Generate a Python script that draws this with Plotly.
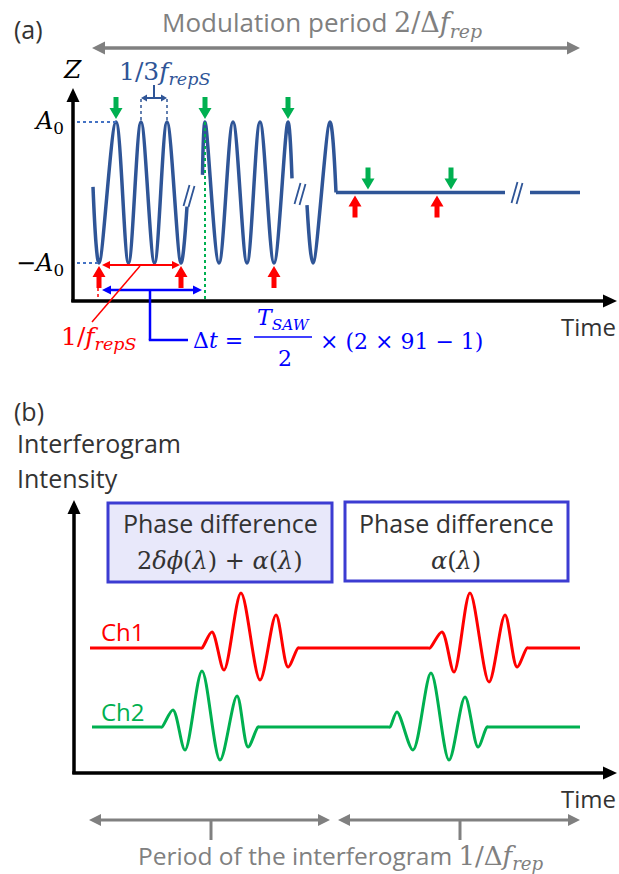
import plotly.graph_objects as go

W, H = 619, 874

# ---------------- data ----------------
# Panel (a): surface displacement Z (in units of A0) against time (time axis in px-like units)
burst1_t = [93, 99, 116, 128.5, 141, 154.5, 167, 181, 187]
burst1_z = [0.08, -1, 1, -1, 1, -1, 1, -1, -0.2]
burst2_t = [202.5, 205, 219, 233, 247, 260, 274, 288, 292]
burst2_z = [0.25, 1, -1, 1, -1, 1, -1, 1, 0.2]
burst3_t = [307, 313, 330, 336]
burst3_z = [-0.18, -1, 1, 0.0]
rest1_t = [336, 505]
rest1_z = [0, 0]
rest2_t = [530, 580]
rest2_z = [0, 0]
green_t = [116, 205, 288, 368, 451]
green_z = [1, 1, 1, 0, 0]
red_t = [99, 181, 274, 355, 437]
red_z = [-1, -1, -1, 0, 0]

# Panel (b): interferogram intensity (arb. units)
ch1_t = [90, 200, 202, 212, 224, 241, 260, 276, 288, 298, 300, 428, 430, 442, 454, 470, 489, 505, 517, 527, 529, 580]
ch1_i = [12.5, 12.5, 12.5, 14.1, 10.3, 18.0, 9.3, 15.8, 10.6, 12.5, 12.5, 12.5, 12.5, 14.1, 10.1, 18.0, 9.1, 15.8, 10.6, 12.5, 12.5, 12.5]
ch2_t = [92, 160, 162, 173, 185, 202, 220, 237, 248, 258, 260, 388, 390, 397, 413, 431, 449, 465, 478, 487, 489, 580]
ch2_i = [4.6, 4.6, 4.6, 6.3, 2.3, 10.2, 1.3, 7.7, 2.6, 4.6, 4.6, 4.6, 4.6, 6.1, 2.3, 10.0, 1.3, 7.6, 2.6, 4.6, 4.6, 4.6]

# ---------------- style ----------------
SANS = "Open Sans"
SERIF = "DejaVu Serif"
WAVE = "#2f5597"
GREEN = "#00b050"
RED = "#ff0000"
BLUE = "#0000ff"
GRAY = "#808080"
DARK = "#333333"
BOXC = "#3c3cd2"

shapes = []
annotations = []


def px(x):
    return x / W


def py(y):
    return 1 - y / H


def seg(x0, y0, x1, y1, color, width, dash="solid"):
    shapes.append(dict(type="line", xref="paper", yref="paper",
                       x0=px(x0), y0=py(y0), x1=px(x1), y1=py(y1),
                       line=dict(color=color, width=width, dash=dash)))


def poly(pts, color):
    d = "M " + " L ".join(f"{px(a):.5f},{py(b):.5f}" for a, b in pts) + " Z"
    shapes.append(dict(type="path", xref="paper", yref="paper", path=d,
                       fillcolor=color, line=dict(width=0)))


def head(tx, ty, dx, dy, L, Wd, color):
    bx, by = tx - dx * L, ty - dy * L
    nx, ny = -dy, dx
    poly([(tx, ty), (bx + nx * Wd / 2, by + ny * Wd / 2), (bx - nx * Wd / 2, by - ny * Wd / 2)], color)


def harrow(x0, x1, y, color, width, L, Wd, both=True):
    seg(x0 + (L - 1 if both else 0), y, x1 - L + 1, y, color, width)
    head(x1, y, 1, 0, L, Wd, color)
    if both:
        head(x0, y, -1, 0, L, Wd, color)


def text(x, y, s, size, color, xa="center", family=SANS):
    annotations.append(dict(x=px(x), y=py(y), xref="paper", yref="paper", text=s,
                            showarrow=False, xanchor=xa, yanchor="middle",
                            font=dict(size=size, color=color, family=family)))


def math(s, size):
    return f"<span style='font-family:{SERIF};font-size:{size}px'>{s}</span>"


fig = go.Figure()

# ---------------- panel (a) waveform ----------------
for t, z in [(burst1_t, burst1_z), (burst2_t, burst2_z), (burst3_t, burst3_z)]:
    fig.add_trace(go.Scatter(x=t, y=z, mode="lines", xaxis="x", yaxis="y",
                             line=dict(color=WAVE, width=3.5, shape="spline", smoothing=1.0),
                             hoverinfo="skip", showlegend=False))
for t, z in [(rest1_t, rest1_z), (rest2_t, rest2_z)]:
    fig.add_trace(go.Scatter(x=t, y=z, mode="lines", xaxis="x", yaxis="y",
                             line=dict(color=WAVE, width=3.5), hoverinfo="skip", showlegend=False))

# block arrows marking sampling instants (sized in pixels, anchored on data)
green_path = "M 0,3 L -6.5,14 L -2.5,14 L -2.5,25 L 2.5,25 L 2.5,14 L 6.5,14 Z"
red_path = "M 0,-3 L -6.5,-14 L -2.5,-14 L -2.5,-25 L 2.5,-25 L 2.5,-14 L 6.5,-14 Z"
for t, z in zip(green_t, green_z):
    shapes.append(dict(type="path", xref="x", yref="y", xsizemode="pixel", ysizemode="pixel",
                       xanchor=t, yanchor=z, path=green_path, fillcolor=GREEN, line=dict(width=0)))
for t, z in zip(red_t, red_z):
    shapes.append(dict(type="path", xref="x", yref="y", xsizemode="pixel", ysizemode="pixel",
                       xanchor=t, yanchor=z, path=red_path, fillcolor=RED, line=dict(width=0)))

# A0 guide lines
shapes.append(dict(type="line", xref="x", yref="y", x0=77, x1=burst1_t[2], y0=1, y1=1,
                   line=dict(color="#4472c4", width=2, dash="dot")))
shapes.append(dict(type="line", xref="x", yref="y", x0=77, x1=burst1_t[1], y0=-1, y1=-1,
                   line=dict(color="#4472c4", width=2, dash="dot")))

# break marks //
for bx, by in [(189, 195), (300, 193), (517, 192)]:
    seg(bx - 5.5, by + 11, bx + 0.5, by - 10, WAVE, 1.8)
    seg(bx - 0.5, by + 12, bx + 5.5, by - 9, WAVE, 1.8)

# axes (a)
seg(73, 302, 73, 100, "black", 3.5)
head(73, 88, 0, -1, 14, 13, "black")
seg(71.3, 301, 605, 301, "black", 3.5)
head(617, 301, 1, 0, 14, 13, "black")

text(12, 29, "(a)", 25, DARK, xa="left")
text(322, 23, "Modulation period " + math("2/Δ<i>f</i><sub><i>rep</i></sub>", 27), 26, GRAY)
harrow(92, 580, 48, GRAY, 3.5, 13, 13)

text(72, 70, "<i>Z</i>", 25, "black", family=SERIF)
text(66, 122, "<i>A</i><sub>0</sub>", 24, "black", xa="right", family=SERIF)
text(66, 264, "−<i>A</i><sub>0</sub>", 24, "black", xa="right", family=SERIF)

# 1/3 f_repS bracket
seg(141, 99, 141, 120, WAVE, 1.5, "dot")
seg(167, 99, 167, 120, WAVE, 1.5, "dot")
harrow(141, 167, 98, WAVE, 2, 6, 7)
seg(154, 98, 154, 85, WAVE, 2)
text(117, 73, "1/3<i>f</i><sub><i>repS</i></sub>", 25, WAVE, xa="left", family=SERIF)

# delay markers
seg(205, 122, 205, 300, GREEN, 2, "dot")
harrow(102, 180, 265, RED, 2, 8, 8)
seg(98, 288, 98, 300, RED, 1.5, "dot")
harrow(102, 202, 290, BLUE, 2.5, 9, 9)
seg(150, 290, 150, 340, BLUE, 2.5)
seg(148.8, 340, 188, 340, BLUE, 2.5)
seg(140, 266, 92, 322, RED, 1.5)
text(99, 338, "1/<i>f</i><sub><i>repS</i></sub>", 25, RED, family=SERIF)
text(191, 340, "Δ<i>t</i> =", 22, BLUE, xa="left", family=SERIF)
text(283, 320, "<i>T</i><sub><i>SAW</i></sub>", 22, BLUE, family=SERIF)
seg(254, 337, 312, 337, BLUE, 1.5)
text(285, 359, "2", 22, BLUE, family=SERIF)
text(318, 341, "× (2 × 91 − 1)", 22, BLUE, xa="left", family=SERIF)
text(588, 326, "Time", 24, DARK)

# ---------------- panel (b) ----------------
fig.add_trace(go.Scatter(x=ch1_t, y=ch1_i, mode="lines", xaxis="x2", yaxis="y2",
                         line=dict(color=RED, width=3, shape="spline", smoothing=0.9),
                         hoverinfo="skip", showlegend=False))
fig.add_trace(go.Scatter(x=ch2_t, y=ch2_i, mode="lines", xaxis="x2", yaxis="y2",
                         line=dict(color=GREEN, width=3, shape="spline", smoothing=0.9),
                         hoverinfo="skip", showlegend=False))

seg(74, 774, 74, 512, "black", 3.5)
head(74, 500, 0, -1, 14, 13, "black")
seg(72.3, 773, 605, 773, "black", 3.5)
head(617, 773, 1, 0, 14, 13, "black")

shapes.append(dict(type="rect", xref="paper", yref="paper", x0=px(108), x1=px(332), y0=py(582), y1=py(503),
                   fillcolor="#e8e8fa", line=dict(color=BOXC, width=3)))
shapes.append(dict(type="rect", xref="paper", yref="paper", x0=px(345), x1=px(568), y0=py(581), y1=py(502),
                   fillcolor="white", line=dict(color=BOXC, width=3)))

text(12, 411, "(b)", 25, DARK, xa="left")
text(15, 443, "Interferogram", 25, DARK, xa="left")
text(15, 478, "Intensity", 25, DARK, xa="left")
text(220, 523, "Phase difference", 25, DARK)
text(220, 561, "2<i>δϕ</i>(<i>λ</i>)&nbsp;+&nbsp;<i>α</i>(<i>λ</i>)", 24, DARK, family=SERIF)
text(456, 523, "Phase difference", 25, DARK)
text(456, 561, "<i>α</i>(<i>λ</i>)", 24, DARK, family=SERIF)
text(123, 631, "Ch1", 24, RED)
text(123, 711, "Ch2", 24, GREEN)
text(588, 798, "Time", 24, DARK)

harrow(89, 330, 820, GRAY, 3, 12, 12)
harrow(338, 580, 820, GRAY, 3, 12, 12)
seg(211, 820, 211, 840, GRAY, 3)
seg(460, 820, 460, 840, GRAY, 3)
text(341, 856, "Period of the interferogram " + math("1/Δ<i>f</i><sub><i>rep</i></sub>", 26), 24.5, GRAY)

# ---------------- layout ----------------
ya_top = 1 + 122 * 2 / 141
ya_bot = 1 - (H - 122) * 2 / 141
fig.update_layout(
    width=W, height=H, margin=dict(l=0, r=0, t=0, b=0, pad=0),
    paper_bgcolor="white", plot_bgcolor="white",
    xaxis=dict(range=[0, W], domain=[0, 1], visible=False, fixedrange=True),
    yaxis=dict(range=[ya_bot, ya_top], domain=[0, 1], visible=False, fixedrange=True),
    xaxis2=dict(range=[0, W], domain=[0, 1], overlaying="x", visible=False, fixedrange=True),
    yaxis2=dict(range=[-(H - 773) / 10, 773 / 10], domain=[0, 1], overlaying="y", anchor="x2",
                visible=False, fixedrange=True),
    shapes=shapes, annotations=annotations, showlegend=False,
)
fig.write_html("out.html")
